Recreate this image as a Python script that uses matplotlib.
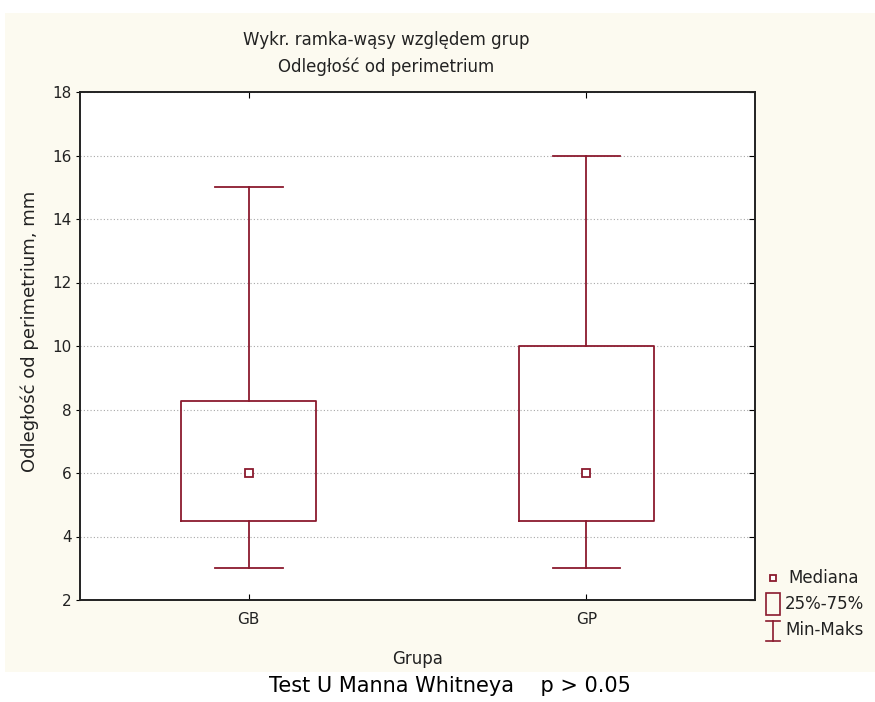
import matplotlib
matplotlib.use("Agg")
import matplotlib.pyplot as plt
from matplotlib.patches import Rectangle
from matplotlib.lines import Line2D

groups = ["GB", "GP"]
mins = [3.0, 3.0]
q1s = [4.5, 4.5]
medians = [6.0, 6.0]
q3s = [8.27, 10.0]
maxs = [15.0, 16.0]
yticks = [2, 4, 6, 8, 10, 12, 14, 16, 18]

plt.rcParams['font.family'] = ['DejaVu Sans']
txtcol = '#222222'

W, H = 875, 702
fig = plt.figure(figsize=(W/100, H/100), dpi=100, facecolor='white')

def fx(px): return px / W
def fy(py): return 1 - py / H

# cream background panel
fig.patches.append(Rectangle((fx(5), fy(672)), fx(875) - fx(5), fy(13) - fy(672),
                             transform=fig.transFigure, facecolor='#fcfaf0', edgecolor='none', zorder=-10))

ax = fig.add_axes([fx(80), fy(600), fx(755) - fx(80), fy(92) - fy(600)])
ax.set_facecolor('white')

col = '#8b1a2e'
stats = []
for g, lo, a, m, b, hi in zip(groups, mins, q1s, medians, q3s, maxs):
    stats.append(dict(label=g, whislo=lo, q1=a, med=m, q3=b, whishi=hi, fliers=[]))
pos = [1, 2]
ax.bxp(stats, positions=pos, widths=0.4, capwidths=0.2, showfliers=False,
       boxprops=dict(color=col, linewidth=1.3),
       whiskerprops=dict(color=col, linewidth=1.3),
       capprops=dict(color=col, linewidth=1.3),
       medianprops=dict(linewidth=0))
ax.plot(pos, medians, linestyle='none', marker='s', markersize=5.5,
        markerfacecolor='white', markeredgecolor=col, markeredgewidth=1.3, zorder=5)

ax.set_xlim(0.5, 2.5)
ax.set_ylim(2, 18)
ax.set_yticks(yticks)
ax.set_xticks(pos)
ax.set_xticklabels(groups)
ax.yaxis.grid(True, linestyle=(0, (1, 2)), color='#a8a8a8', linewidth=0.8)
ax.set_axisbelow(True)
for s in ax.spines.values():
    s.set_linewidth(1.4)
    s.set_color('#222222')
ax.tick_params(axis='y', left=True, right=True, direction='out', length=3,
               labelsize=11, pad=3, labelcolor=txtcol)
ax.tick_params(axis='x', top=True, bottom=True, direction='in', length=4, labelsize=11,
               pad=9, labelcolor=txtcol)
for t in ax.yaxis.get_major_ticks():
    t.tick2line.set_marker(0)  # inward tick on right side
    t.tick2line.set_markersize(4)
ax.set_ylabel("Odległość od perimetrium, mm", fontsize=13, color=txtcol)
ax.yaxis.set_label_coords(-0.06, (600 - 331) / 508)
ax.set_xlabel("Grupa", fontsize=12, labelpad=16, color=txtcol)

fig.text(fx(386), fy(40), "Wykr. ramka-wąsy względem grup", ha='center', va='center',
         fontsize=12, color=txtcol)
fig.text(fx(386), fy(67), "Odległość od perimetrium", ha='center', va='center',
         fontsize=12, color=txtcol)

# legend
tr = fig.transFigure
fig.add_artist(Line2D([fx(773)], [fy(578)], marker='s', markersize=5, markerfacecolor='white',
                      markeredgecolor=col, markeredgewidth=1.3, linestyle='none', transform=tr))
fig.text(fx(788), fy(578), "Mediana", ha='left', va='center', fontsize=12, color=txtcol)
fig.patches.append(Rectangle((fx(766), fy(615)), fx(780) - fx(766), fy(593) - fy(615), transform=tr,
                             facecolor='none', edgecolor=col, linewidth=1.2))
fig.text(fx(785), fy(604), "25%-75%", ha='left', va='center', fontsize=12, color=txtcol)
fig.add_artist(Line2D([fx(773), fx(773)], [fy(621), fy(641)], color=col, linewidth=1.2, transform=tr))
fig.add_artist(Line2D([fx(766), fx(780)], [fy(621), fy(621)], color=col, linewidth=1.2, transform=tr))
fig.add_artist(Line2D([fx(766), fx(780)], [fy(641), fy(641)], color=col, linewidth=1.2, transform=tr))
fig.text(fx(785), fy(630), "Min-Maks", ha='left', va='center', fontsize=12, color=txtcol)

fig.text(fx(450), fy(686), "Test U Manna Whitneya    p > 0.05", ha='center', va='center',
         fontsize=15, color='black')

fig.savefig("out.png", dpi=100, facecolor='white')
